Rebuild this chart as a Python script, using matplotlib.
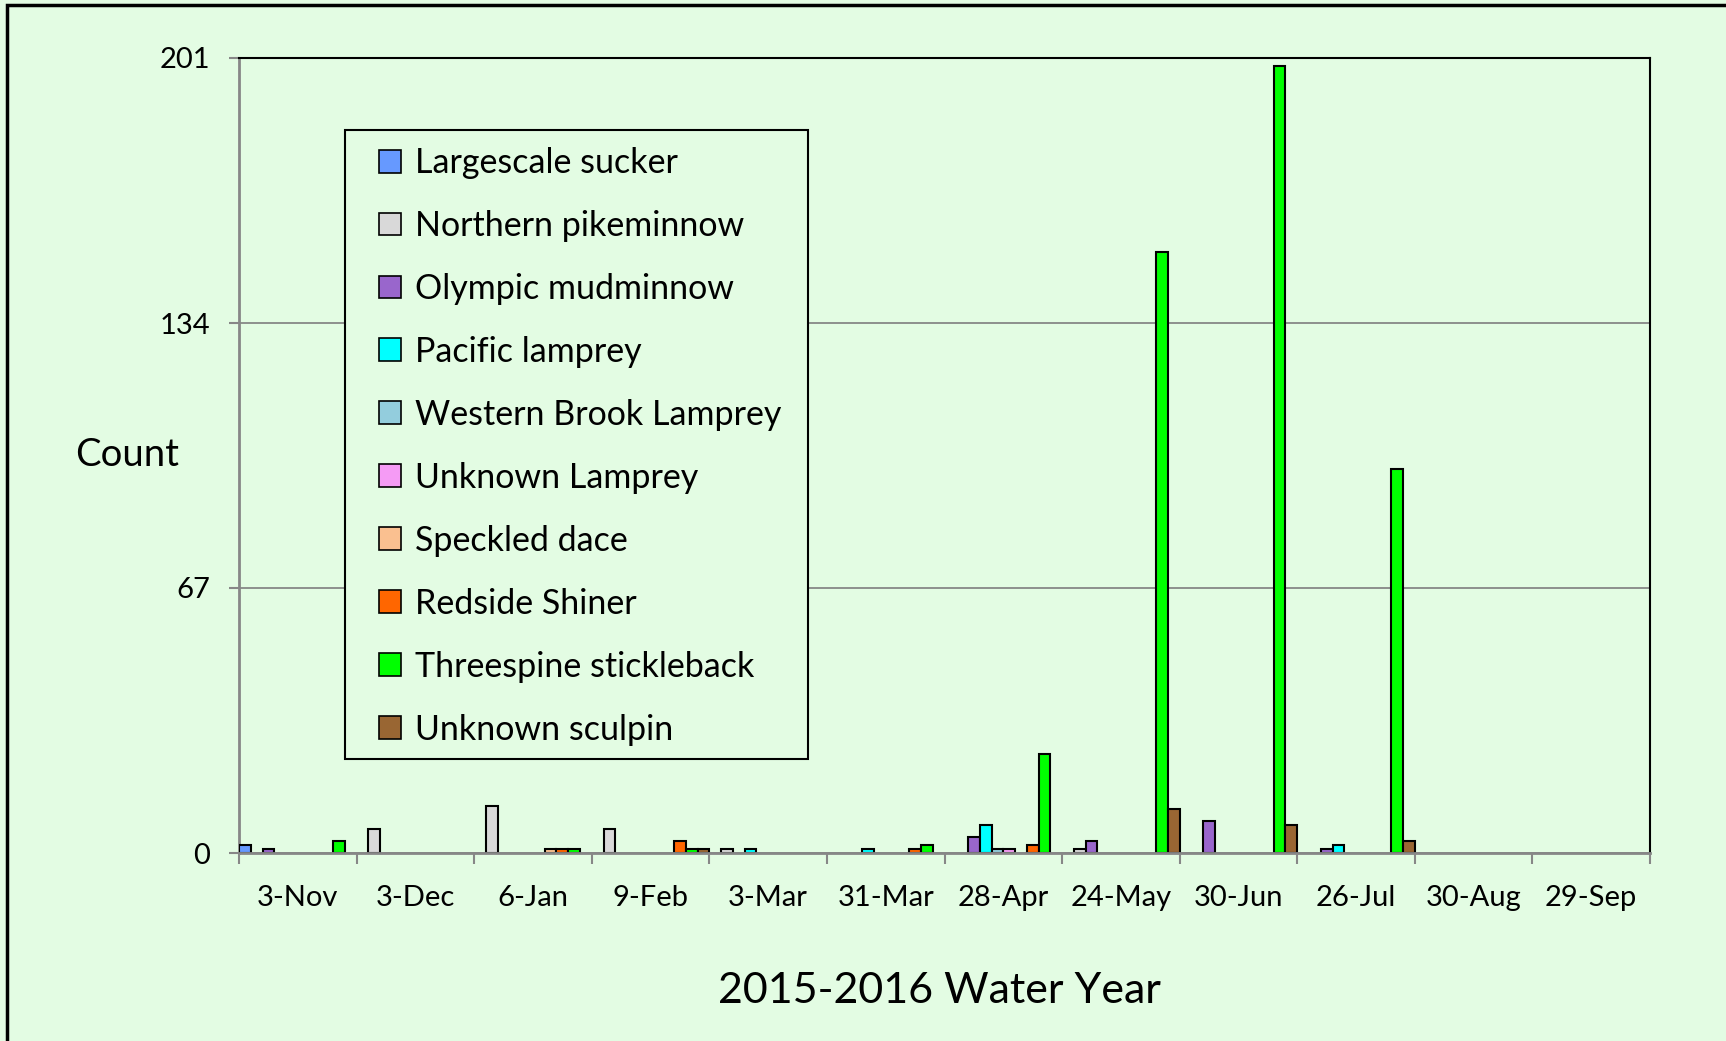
#!/usr/bin/env python3

import matplotlib

matplotlib.use("Agg")
import matplotlib.pyplot as plt
import numpy as np
from matplotlib.patches import Patch, Rectangle

plt.rcParams["font.family"] = ["Lato", "DejaVu Sans"]

BG_COLOR = "#E3FCE3"
AXIS_GRAY = "#878787"
W, H = 1726, 1041

categories = ["3-Nov", "3-Dec", "6-Jan", "9-Feb", "3-Mar", "31-Mar",
              "28-Apr", "24-May", "30-Jun", "26-Jul", "30-Aug", "29-Sep"]

species = [
    "Largescale sucker",
    "Northern pikeminnow",
    "Olympic mudminnow",
    "Pacific lamprey",
    "Western Brook Lamprey",
    "Unknown Lamprey",
    "Speckled dace",
    "Redside Shiner",
    "Threespine stickleback",
    "Unknown sculpin",
]

largescale_sucker = [2, 0, 0, 0, 0, 0, 0, 0, 0, 0, 0, 0]
northern_pikeminnow = [0, 6, 12, 6, 1, 0, 0, 1, 0, 0, 0, 0]
olympic_mudminnow = [1, 0, 0, 0, 0, 0, 4, 3, 8, 1, 0, 0]
pacific_lamprey = [0, 0, 0, 0, 1, 1, 7, 0, 0, 2, 0, 0]
western_brook_lamprey = [0, 0, 0, 0, 0, 0, 1, 0, 0, 0, 0, 0]
unknown_lamprey = [0, 0, 0, 0, 0, 0, 1, 0, 0, 0, 0, 0]
speckled_dace = [0, 0, 1, 0, 0, 0, 0, 0, 0, 0, 0, 0]
redside_shiner = [0, 0, 1, 3, 0, 1, 2, 0, 0, 0, 0, 0]
threespine_stickleback = [3, 0, 1, 1, 0, 2, 25, 152, 199, 97, 0, 0]
unknown_sculpin = [0, 0, 0, 1, 0, 0, 0, 11, 7, 3, 0, 0]

series = [
    largescale_sucker, northern_pikeminnow, olympic_mudminnow, pacific_lamprey,
    western_brook_lamprey, unknown_lamprey, speckled_dace, redside_shiner,
    threespine_stickleback, unknown_sculpin,
]

colors = ["#6699FF", "#D9D9D9", "#9966CC", "#00FFFF", "#93CDDD",
          "#F59BF5", "#FAC090", "#FF6600", "#00FF00", "#996633"]

yticks = [0, 67, 134, 201]


def plot_counts():
    fig = plt.figure(figsize=(W / 100, H / 100), dpi=100, facecolor=BG_COLOR)
    ax = fig.add_axes([239 / W, 1 - 853 / H, (1650 - 239) / W, (853 - 58) / H])
    ax.set_facecolor(BG_COLOR)

    n = len(series)
    width = 1.0 / n
    x = np.arange(len(categories))
    for j, (vals, color) in enumerate(zip(series, colors)):
        vals = np.asarray(vals, dtype=float)
        keep = vals > 0  # zero counts draw nothing
        ax.bar(x[keep] - 0.5 + (j + 0.5) * width, vals[keep], width=width,
               color=color, edgecolor="black", linewidth=1.5, zorder=3)

    ax.set_xlim(-0.5, len(categories) - 0.5)
    ax.set_ylim(0, 201)

    # category labels centred, tick marks at the boundaries
    ax.set_xticks(x)
    ax.set_xticklabels(categories, fontsize=21)
    ax.tick_params(axis="x", which="major", length=0, pad=23)
    ax.set_xticks(np.arange(len(categories) + 1) - 0.5, minor=True)
    ax.tick_params(axis="x", which="minor", length=8, width=1.5, color=AXIS_GRAY, direction="out")

    ax.set_yticks(yticks)
    ax.set_yticklabels([str(v) for v in yticks], fontsize=21)
    ax.tick_params(axis="y", length=7, width=1.5, color=AXIS_GRAY, pad=14)

    ax.grid(axis="y", color=AXIS_GRAY, linewidth=1.3, zorder=0)
    ax.set_axisbelow(True)

    for side in ("left", "bottom"):
        ax.spines[side].set_color(AXIS_GRAY)
        ax.spines[side].set_linewidth(2)
    for side in ("top", "right"):
        ax.spines[side].set_color("black")
        ax.spines[side].set_linewidth(1.5)
    ax.spines["bottom"].set_zorder(4)

    # legend box drawn separately so its padding can match the original
    fig.patches.append(Rectangle((345 / W, 1 - 759 / H), (808 - 345) / W, (759 - 130) / H,
                                 transform=fig.transFigure, facecolor=BG_COLOR,
                                 edgecolor="black", linewidth=1.5, zorder=5))
    handles = [Patch(facecolor=c, edgecolor="black", linewidth=1.2) for c in colors]
    leg = fig.legend(handles, species, loc="upper left",
                     bbox_to_anchor=(379 / W, 1 - 147 / H),
                     fontsize=24.5, frameon=False,
                     handlelength=0.66, handleheight=0.66, handletextpad=0.4,
                     labelspacing=0.91, borderpad=0, borderaxespad=0)
    leg.set_zorder(6)

    fig.text(75 / W, 1 - 455 / H, "Count", fontsize=27.5, ha="left", va="center")
    fig.text(939 / W, 1 - 991 / H, "2015-2016 Water Year", fontsize=31,
             ha="center", va="center")

    # outer chart border (right/bottom edges fall off the picture)
    fig.patches.append(Rectangle((7 / W, -0.05), 1.1, 1 - 5 / H + 0.05,
                                 transform=fig.transFigure, fill=False,
                                 edgecolor="black", linewidth=2.5))

    fig.savefig("out.png", dpi=100, facecolor=BG_COLOR)
    plt.close(fig)


if __name__ == "__main__":
    plot_counts()
